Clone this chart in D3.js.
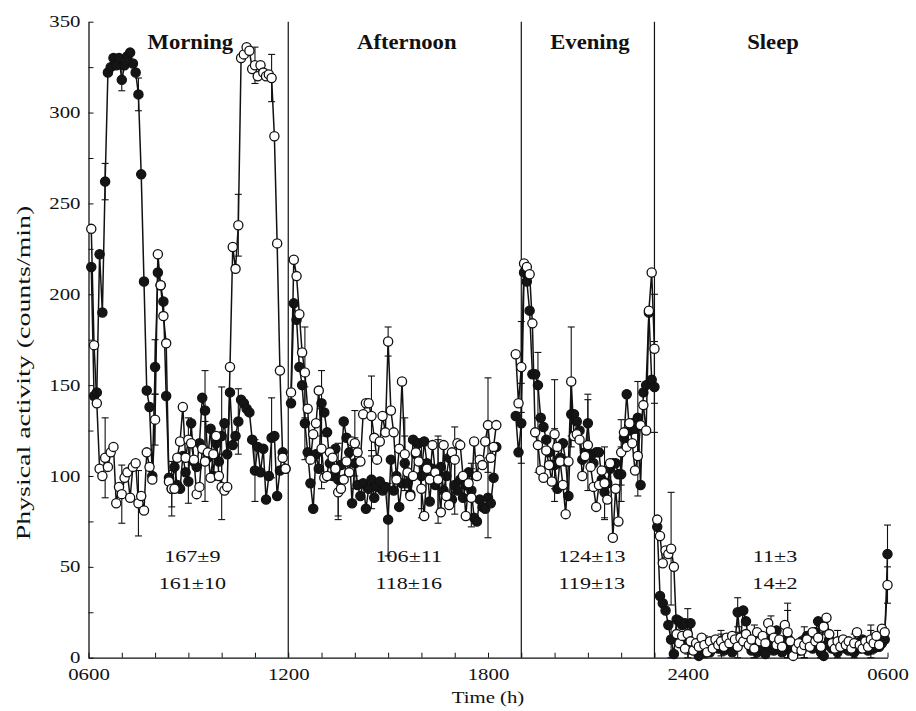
<!DOCTYPE html>
<html>
<head>
<meta charset="utf-8">
<script src="https://cdn.jsdelivr.net/npm/d3@7"></script>
<style>
  body { margin: 0; background: #fff; }
  text { font-family: "Liberation Serif", "Times New Roman", serif; fill: #111; }
</style>
</head>
<body>
<div class="chart"></div>
<script>
// 5-min means, two groups (filled / open)
const morningFilled = [215,144,146,222,190,262,322,325,330,326,330,318,326,331,333,327,322,310,266,207,147,138,100,160,212,205,196,144,99,93,105,95,93,111,102,97,129,108,105,118,143,136,110,126,100,118,108,122,129,112,146,117,122,130,142,140,137,135,120,103,116,102,115,87,100,121,122,89,103,113,104];
const morningOpen = [236,172,140,104,100,110,105,113,116,85,94,90,99,102,88,105,107,85,89,81,113,105,98,131,222,205,188,173,97,93,93,110,119,138,110,120,118,109,90,94,115,108,113,99,112,122,100,94,92,94,160,226,214,238,330,332,336,334,324,326,320,326,322,320,321,319,287,228,158,110,104];
const afternoonFilled = [140,195,186,160,150,129,113,96,82,112,104,140,135,124,107,100,115,98,106,130,121,113,85,107,95,89,96,82,93,98,88,94,97,92,94,76,109,92,100,83,96,107,96,90,120,112,118,100,119,107,86,104,95,100,105,92,100,110,87,95,92,98,88,95,102,92,77,75,87,83,82,88,85,99,116];
const afternoonOpen = [146,219,210,189,168,157,137,109,123,129,147,115,99,100,113,110,104,91,93,98,108,102,119,118,113,108,134,140,140,133,121,109,119,133,124,174,136,124,98,115,152,112,102,89,100,113,108,93,78,104,98,117,102,98,80,117,89,84,113,109,118,117,100,78,96,88,119,100,109,106,119,128,110,116,128];
const eveningFilled = [133,113,129,212,207,191,156,156,150,132,127,120,113,106,106,93,110,118,108,89,134,134,130,125,109,113,129,112,107,113,113,98,91,96,104,107,107,101,101,121,145,125,129,126,132,95,146,150,190,153,149];
const eveningOpen = [167,140,160,217,215,211,184,124,117,103,99,114,106,97,123,116,108,95,79,108,152,122,123,120,100,111,117,105,94,83,95,103,96,87,107,66,93,75,113,124,116,129,118,103,111,128,139,125,191,212,170];
const sleepFilled = [72,34,30,26,18,10,2,21,20,18,19,10,19,5,8,1,6,4,8,3,6,9,5,7,4,10,6,3,8,25,9,26,20,8,4,6,3,9,5,2,7,10,4,15,8,3,6,11,5,2,7,4,9,6,12,8,5,14,20,3,1,7,10,5,8,3,6,9,5,4,7,3,8,5,10,6,4,7,5,9,6,8,10,57];
const sleepOpen = [76,67,52,59,57,60,50,13,8,12,5,13,9,4,8,6,11,7,3,9,5,10,7,9,6,11,8,12,10,6,11,9,13,7,10,5,14,9,12,8,19,15,11,7,10,6,18,14,9,1,5,8,4,7,10,6,14,9,11,6,17,22,13,8,5,9,6,10,7,9,5,8,14,7,5,9,6,10,8,12,7,16,14,40];

// SE at every half hour
const morningSeFilled = [10,6,9,15,15,12,22,27,18,17,22];
const morningSeOpen = [22,16,18,14,10,12,22,18,17,10,13];
const afternoonSeFilled = [20,18,20,14,16,20,15,18,20,16,15,22];
const afternoonSeOpen = [25,22,15,18,22,8,20,16,24,18,16,26];
const eveningSeFilled = [22,18,20,18,16,14,15,20,25];
const eveningSeOpen = [25,15,30,30,25,20,18,22,30];
const sleepSeFilled = [10,8,5,6,8,12,5,15,6,10,5,6,8,16];
const sleepSeOpen = [31,14,5,6,8,5,8,16,10,8,6,5,8,10];

const segNames = ['Morning', 'Afternoon', 'Evening', 'Sleep'];
const segStart = [6 + 5/60, 12 + 5/60, 18 + 50/60, 23 + 5/60];   // clock time of first point
const segBounds = [6, 12, 19, 23, 30];
const statsFilled = ['167±9', '106±11', '124±13', '11±3'];
const statsOpen = ['161±10', '118±16', '119±13', '14±2'];
const xTickLabels = ['0600', '1200', '1800', '2400', '0600'];
const yTicks = d3.range(0, 351, 25);

const W = 916, H = 711;
const svg = d3.select('.chart').append('svg').attr('width', W).attr('height', H);

const x = d3.scaleLinear().domain([0, 24]).range([88.5, 887.5]);
const y = d3.scaleLinear().domain([0, 350]).range([657.7, 21.7]);
const sx = 1.3; // figure font is wider than Times

const segs = segNames.map((name, k) => ({
  name,
  t0: segStart[k] - 6,
  filled: [morningFilled, afternoonFilled, eveningFilled, sleepFilled][k],
  open: [morningOpen, afternoonOpen, eveningOpen, sleepOpen][k],
  seFilled: [morningSeFilled, afternoonSeFilled, eveningSeFilled, sleepSeFilled][k],
  seOpen: [morningSeOpen, afternoonSeOpen, eveningSeOpen, sleepSeOpen][k]
}));

// axes
const yAxis = svg.append('g').attr('transform', `translate(${x(0)},0)`)
  .call(d3.axisLeft(y).tickValues(yTicks).tickSize(-5).tickSizeOuter(0).tickPadding(7)
    .tickFormat(d => d % 50 === 0 ? d : ''));
const xAxis = svg.append('g').attr('transform', `translate(0,${y(0)})`)
  .call(d3.axisBottom(x).tickValues(d3.range(0, 25)).tickSize(-5).tickSizeOuter(0).tickPadding(11)
    .tickFormat(d => d % 6 === 0 ? xTickLabels[d / 6] : ''));
[yAxis, xAxis].forEach(a => {
  a.select('.domain').attr('stroke', '#111').attr('stroke-width', 1.3);
  a.selectAll('.tick line').attr('stroke', '#111').attr('stroke-width', 1);
  a.selectAll('.tick text').attr('font-size', 16).attr('font-family', '"Liberation Serif", serif').attr('fill', '#111');
});
yAxis.selectAll('.tick text').attr('transform', `scale(${sx},1)`).attr('x', -8 / sx);
xAxis.selectAll('.tick text').attr('transform', `scale(${sx},1)`);

// section dividers
svg.append('g').selectAll('line').data(segBounds.slice(1, 4)).join('line')
  .attr('x1', d => x(d - 6)).attr('x2', d => x(d - 6))
  .attr('y1', y(350)).attr('y2', y(0))
  .attr('stroke', '#111').attr('stroke-width', 1.2);

const line = d3.line().x(d => x(d.t)).y(d => y(d.v));

function drawSeries(key, fill) {
  const g = svg.append('g');
  segs.forEach(s => {
    const pts = s[key].map((v, i) => ({ t: s.t0 + i * 5 / 60, v, min: Math.round((s.t0 + 6) * 60) + i * 5 }));
    const se = key === 'filled' ? s.seFilled : s.seOpen;
    const bars = pts.filter(p => p.min % 30 === 0).map((p, j) => ({ ...p, se: se[j] || 0 }));
    const eb = g.append('g').selectAll('g').data(bars).join('g')
      .attr('stroke', '#111').attr('stroke-width', 1.1);
    eb.append('line').attr('x1', d => x(d.t)).attr('x2', d => x(d.t))
      .attr('y1', d => y(d.v + d.se)).attr('y2', d => y(Math.max(0, d.v - d.se)));
    eb.append('line').attr('x1', d => x(d.t) - 3.5).attr('x2', d => x(d.t) + 3.5)
      .attr('y1', d => y(d.v + d.se)).attr('y2', d => y(d.v + d.se));
    eb.append('line').attr('x1', d => x(d.t) - 3.5).attr('x2', d => x(d.t) + 3.5)
      .attr('y1', d => y(Math.max(0, d.v - d.se))).attr('y2', d => y(Math.max(0, d.v - d.se)));
    g.append('path').datum(pts).attr('d', line)
      .attr('fill', 'none').attr('stroke', '#111').attr('stroke-width', 1.5);
    g.append('g').selectAll('circle').data(pts).join('circle')
      .attr('cx', d => x(d.t)).attr('cy', d => y(d.v)).attr('r', 4.6)
      .attr('fill', fill).attr('stroke', '#111').attr('stroke-width', 1.3);
  });
}
drawSeries('filled', '#151515');
drawSeries('open', '#fff');

// section names and means
segs.forEach((s, k) => {
  const cx = x((segBounds[k] + segBounds[k + 1]) / 2 - 6);
  svg.append('text').attr('transform', `translate(${cx + 2},49) scale(1.08,1)`)
    .attr('text-anchor', 'middle').attr('font-size', 21).attr('font-weight', 'bold').text(s.name);
  svg.append('text').attr('transform', `translate(${cx + 4},562) scale(${sx},1)`)
    .attr('text-anchor', 'middle').attr('font-size', 17).text(statsFilled[k]);
  svg.append('text').attr('transform', `translate(${cx + 4},589) scale(${sx},1)`)
    .attr('text-anchor', 'middle').attr('font-size', 17).text(statsOpen[k]);
});

// axis titles
svg.append('text').attr('transform', `translate(${x(12)},703) scale(${sx},1)`)
  .attr('text-anchor', 'middle').attr('font-size', 16).text('Time (h)');
svg.append('text').attr('transform', `translate(30,373) rotate(-90) scale(1.55,1)`)
  .attr('text-anchor', 'middle').attr('font-size', 18).text('Physical activity (counts/min)');
</script>
</body>
</html>
